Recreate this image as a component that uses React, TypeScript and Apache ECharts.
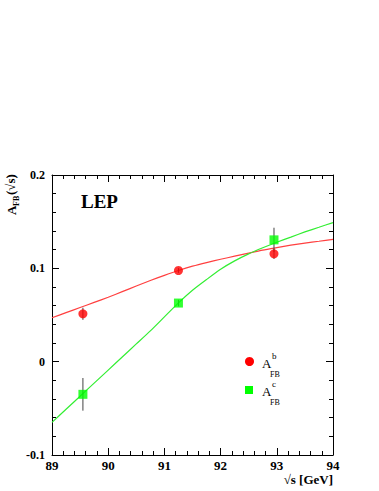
import React, { useEffect, useRef } from "react";
import * as echarts from "echarts";

// Measurements: [sqrt(s) GeV, A_FB, error]
const bPoints: number[][] = [
  [89.55, 0.0513, 0.0065],
  [91.25, 0.0977, 0.0025],
  [92.95, 0.1155, 0.0055],
];
const cPoints: number[][] = [
  [89.55, -0.035, 0.0175],
  [91.25, 0.0628, 0.0035],
  [92.95, 0.1305, 0.013],
];
// Theory curves
const curveX = [89.0, 89.25, 89.5, 89.75, 90.0, 90.25, 90.5, 90.75, 91.0, 91.25, 91.5, 91.75, 92.0, 92.25, 92.5, 92.75, 93.0, 93.25, 93.5, 93.75, 94.0];
const bCurve = [0.047, 0.0525, 0.058, 0.0635, 0.069, 0.075, 0.081, 0.087, 0.0925, 0.0977, 0.1023, 0.1062, 0.1097, 0.113, 0.1163, 0.1195, 0.1222, 0.1248, 0.127, 0.129, 0.131];
const cCurve = [-0.065, -0.051, -0.037, -0.023, -0.009, 0.005, 0.019, 0.033, 0.048, 0.063, 0.0765, 0.088, 0.099, 0.108, 0.1155, 0.122, 0.128, 0.1335, 0.139, 0.144, 0.149];
const xTicks = [89, 90, 91, 92, 93, 94];
const yTicks = [-0.1, 0, 0.1, 0.2];

const FONT = "'Liberation Serif', 'Times New Roman', serif";

export default function App() {
  const ref = useRef<HTMLDivElement>(null);
  useEffect(() => {
    if (!ref.current) return;
    const chart = echarts.init(ref.current, undefined, { renderer: "svg" });
    const axisCommon = {
      type: "value" as const,
      axisLine: { show: true, onZero: false, lineStyle: { color: "#000", width: 1 } },
      axisTick: { show: true, inside: true, length: 7, lineStyle: { color: "#000", width: 1 } },
      minorTick: { show: true, splitNumber: 5, length: 4, lineStyle: { color: "#000", width: 1 } },
      splitLine: { show: false },
    };
    const labelStyle = {
      fontFamily: FONT,
      fontWeight: "bold" as const,
      color: "#000",
    };
    const errSeries = (pts: number[][]) => ({
      type: "custom" as const,
      xAxisIndex: 0,
      yAxisIndex: 0,
      data: pts,
      renderItem: (params: any, api: any) => {
        const x = api.value(0);
        const y = api.value(1);
        const e = api.value(2);
        const p1 = api.coord([x, y - e]);
        const p2 = api.coord([x, y + e]);
        return {
          type: "line",
          shape: { x1: p1[0], y1: p1[1], x2: p2[0], y2: p2[1] },
          style: { stroke: "#444", lineWidth: 1 },
        };
      },
      z: 3,
    });
    chart.setOption({
      animation: false,
      backgroundColor: "#fff",
      grid: { left: 52, right: 46, top: 175, bottom: 36 },
      xAxis: [
        {
          ...axisCommon,
          min: xTicks[0],
          max: xTicks[xTicks.length - 1],
          interval: 1,
          position: "bottom",
          axisLabel: { ...labelStyle, fontSize: 13, margin: 4 },
        },
        {
          ...axisCommon,
          min: xTicks[0],
          max: xTicks[xTicks.length - 1],
          interval: 1,
          position: "top",
          axisLabel: { show: false },
        },
      ],
      yAxis: [
        {
          ...axisCommon,
          min: yTicks[0],
          max: yTicks[yTicks.length - 1],
          interval: 0.1,
          position: "left",
          axisLabel: { ...labelStyle, fontSize: 12, margin: 7 },
        },
        {
          ...axisCommon,
          min: yTicks[0],
          max: yTicks[yTicks.length - 1],
          interval: 0.1,
          position: "right",
          axisLabel: { show: false },
        },
      ],
      series: [
        {
          type: "line",
          data: curveX.map((x, i) => [x, bCurve[i]]),
          smooth: 0.2,
          showSymbol: false,
          lineStyle: { color: "#ff4040", width: 1.2 },
          z: 2,
        },
        {
          type: "line",
          data: curveX.map((x, i) => [x, cCurve[i]]),
          smooth: 0.2,
          showSymbol: false,
          lineStyle: { color: "#33ee33", width: 1.2 },
          z: 2,
        },
        errSeries(bPoints),
        errSeries(cPoints),
        {
          type: "scatter",
          data: bPoints.map((p) => [p[0], p[1]]),
          symbol: "circle",
          symbolSize: 9,
          itemStyle: { color: "#ff0000" },
          z: 4,
        },
        {
          type: "scatter",
          data: cPoints.map((p) => [p[0], p[1]]),
          symbol: "rect",
          symbolSize: 9,
          itemStyle: { color: "#00ff00" },
          z: 4,
        },
      ],
      graphic: [
        { type: "text", left: 81, top: 192, style: { text: "LEP", font: `bold 19px ${FONT}`, fill: "#000" } },
        {
          type: "text", x: 333, y: 486,
          style: { text: "√s [GeV]", font: `bold 13px ${FONT}`, fill: "#000", align: "right", verticalAlign: "bottom" },
        },
        {
          type: "group", x: 11, y: 215, rotation: Math.PI / 2,
          children: [
            { type: "text", x: 0, y: 0, style: { text: "A", font: `bold 13px ${FONT}`, fill: "#000", verticalAlign: "middle" } },
            { type: "text", x: 9, y: 5, style: { text: "FB", font: `bold 8px ${FONT}`, fill: "#000", verticalAlign: "middle" } },
            { type: "text", x: 20, y: -1, style: { text: "(√s)", font: `bold 13px ${FONT}`, fill: "#000", verticalAlign: "middle" } },
          ],
        },
        // legend
        { type: "circle", shape: { cx: 249.5, cy: 361.5, r: 4.5 }, style: { fill: "#ff0000" } },
        { type: "text", x: 262, y: 357, style: { text: "A", font: `13px ${FONT}`, fill: "#000" } },
        { type: "text", x: 272, y: 351, style: { text: "b", font: `9px ${FONT}`, fill: "#000" } },
        { type: "text", x: 270, y: 370, style: { text: "FB", font: `8px ${FONT}`, fill: "#000" } },
        { type: "rect", shape: { x: 245, y: 386, width: 8, height: 8 }, style: { fill: "#00ff00" } },
        { type: "text", x: 262, y: 385, style: { text: "A", font: `13px ${FONT}`, fill: "#000" } },
        { type: "text", x: 272, y: 379, style: { text: "c", font: `9px ${FONT}`, fill: "#000" } },
        { type: "text", x: 270, y: 398, style: { text: "FB", font: `8px ${FONT}`, fill: "#000" } },
      ],
    });
    return () => chart.dispose();
  }, []);
  return (
    <div
      ref={ref}
      style={{ position: "absolute", left: 0, top: 0, width: 379, height: 491 }}
    />
  );
}
